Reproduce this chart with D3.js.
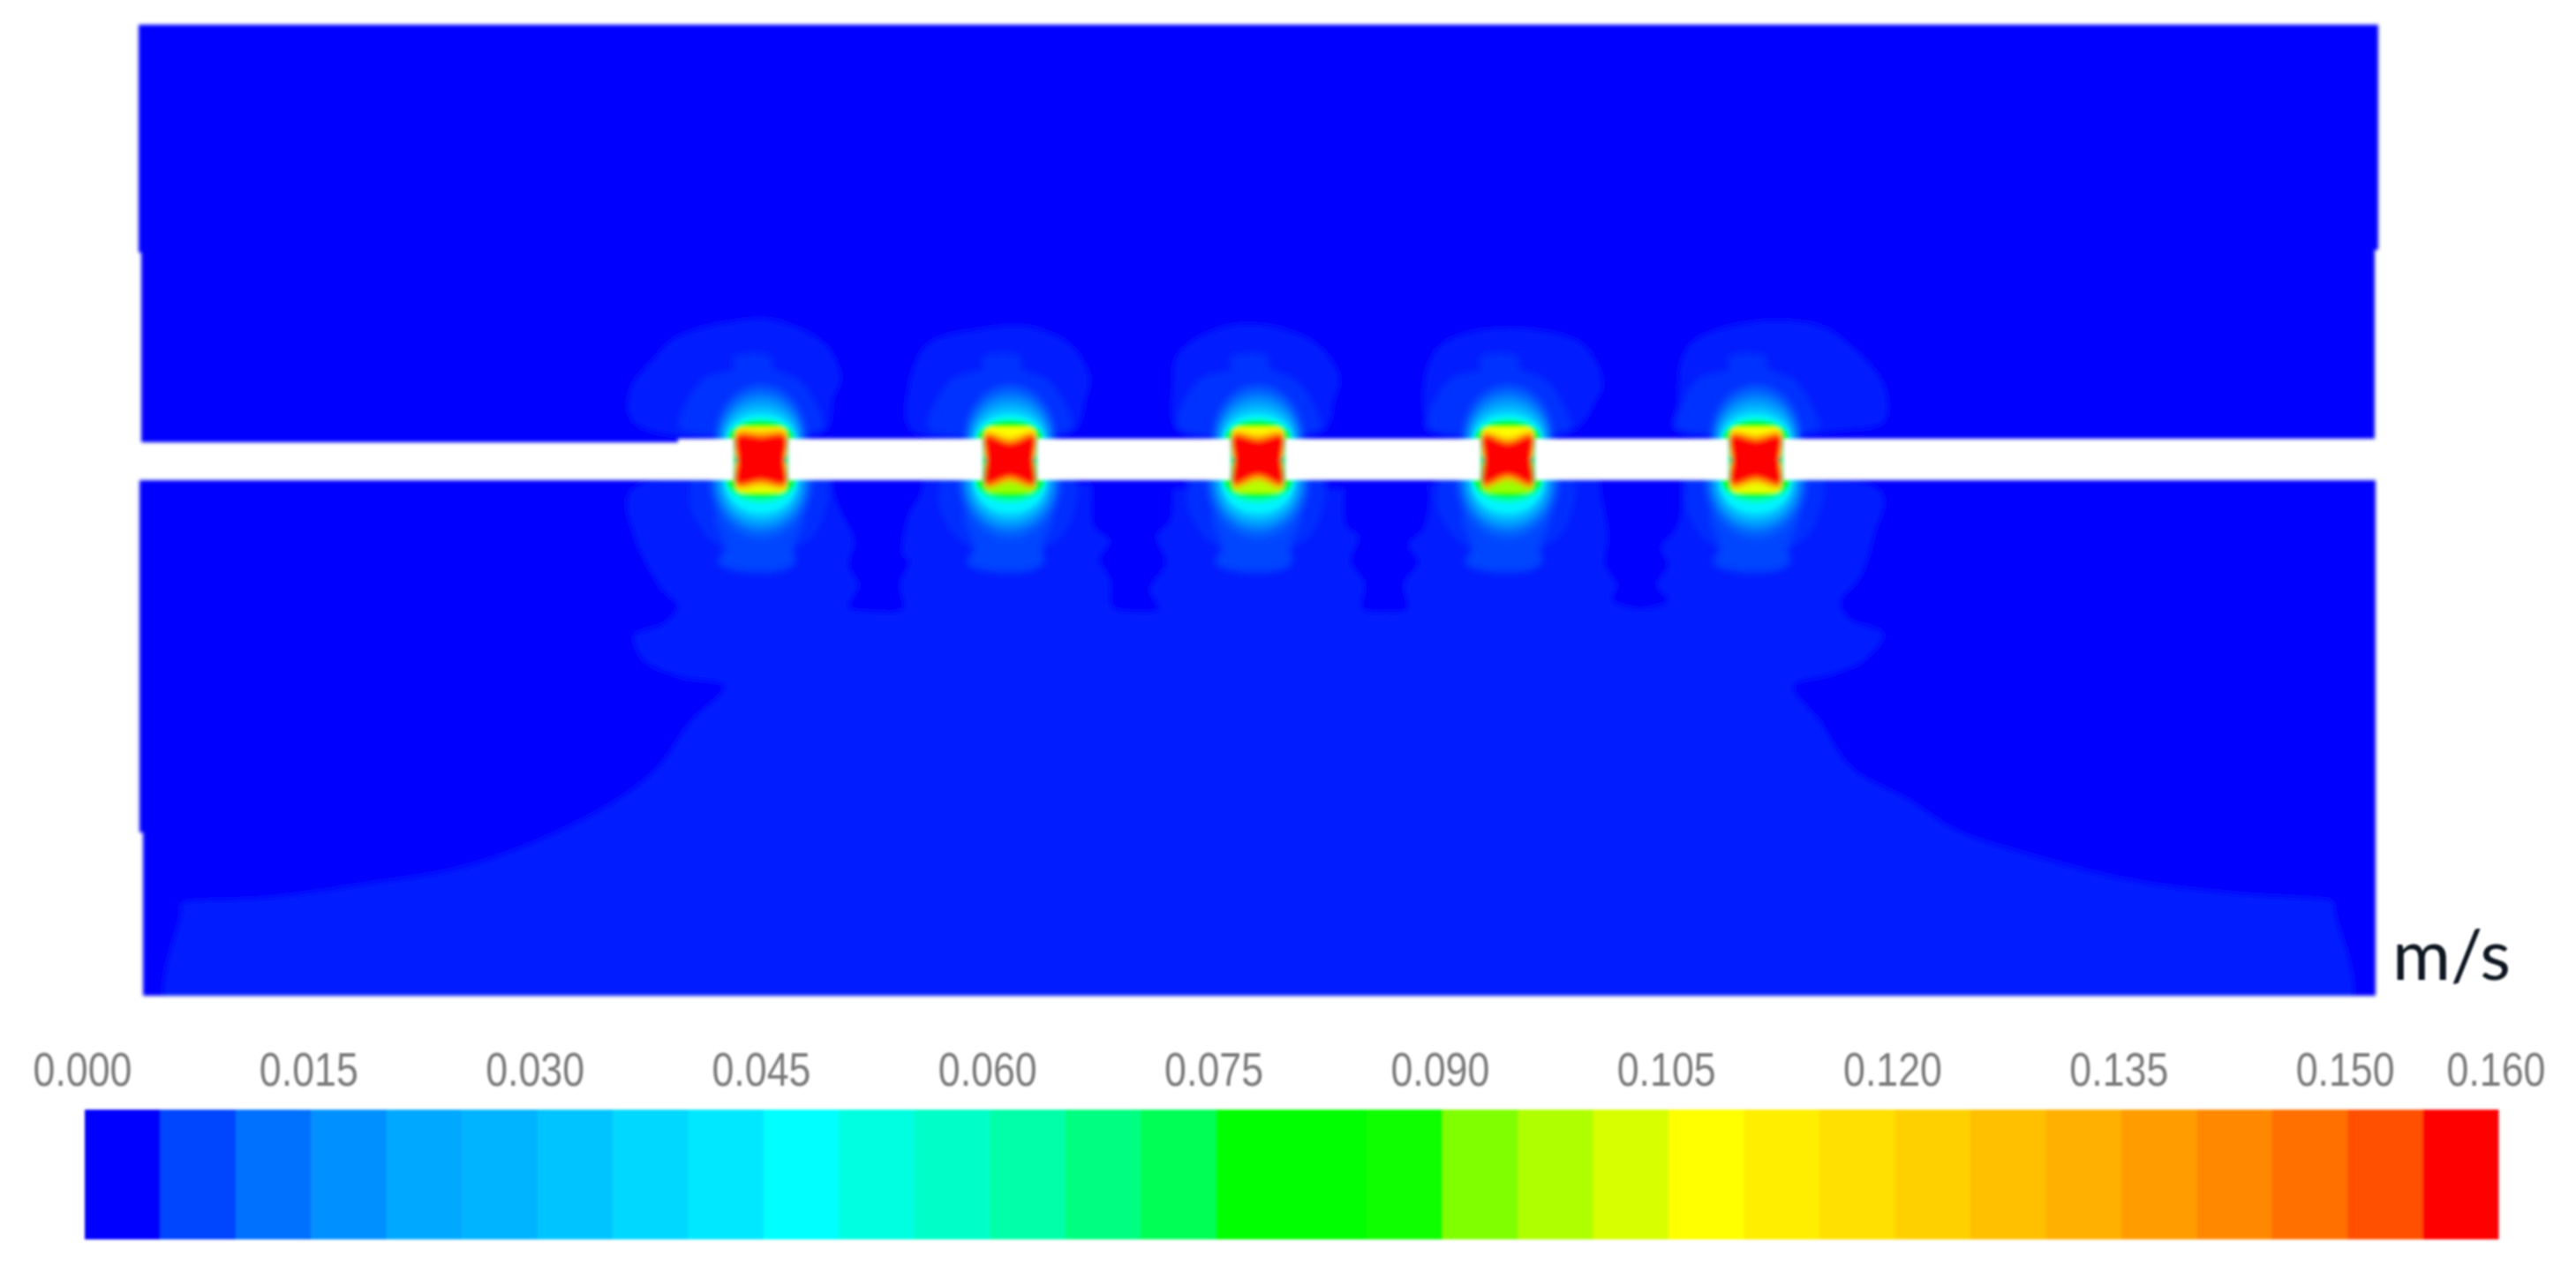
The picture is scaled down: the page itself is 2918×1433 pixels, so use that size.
<!DOCTYPE html>
<html>
    <head>
        <script src="https://d3js.org/d3.v7.min.js"></script>
        <style>
            html, body { margin: 0; background: #fff; }
            svg { display: block; }
        </style>
    </head>
    <body>
        <svg height="1433" width="2918" id="chart"></svg>
        <script>
            // legend
            const bandColors=["#0000ff","#0044ff","#0070ff","#0090ff","#00a8ff","#00b4ff","#00c4ff","#00d8ff",
                "#00e8ff","#00ffff","#00ffe0","#00ffc8","#00ffa8","#00ff80","#00ff55","#00ff00",
                "#00ff00","#10ff00","#80ff00","#b0ff00","#d8ff00","#ffff00","#ffee00","#ffe000",
                "#ffd000","#ffc000","#ffb000","#ff9c00","#ff8800","#ff7000","#ff5000","#ff0000"];
            const bandWidth=0.005;
            const tickValues=[0,0.015,0.03,0.045,0.06,0.075,0.09,0.105,0.12,0.135,0.15,0.16];
            const unitLabel="m/s";

            // walls, model units: x from left end, y from pipe axis
            const upperWall=[[0,493],[2537,493],[2537,238],[2533,238],[2533,24],[611,24],[611,20],[3,20],[3,235],[0,235]];
            const lowerWall=[[1,-23],[2534,-23],[2534,-607],[5,-607],[5,-422],[1,-422]];

            // slow wake below the pipe
            const wakeValue=0.0044;
            const wakeOutline=[[559,-34],[562,-86],[593,-146],[611,-166],[593,-187],[562,-199],[572,-226],[616,-246],
                [664,-256],[626,-296],[585,-352],[514,-402],[377,-459],[249,-482],[147,-496],[60,-500],[50,-502],[48,-515],[42,-640],
                [2496,-640],[2488,-515],[2484,-500],[2474,-498],[2370,-491],[2253,-476],[2136,-446],[2057,-419],[2006,-386],[1940,-349],
                [1904,-296],[1874,-256],[1920,-242],[1955,-226],[1976,-197],[1940,-182],[1927,-162],[1950,-132],
                [1965,-86],[1973,-36],[1266,-34]];
            // still water between the wakes
            const stillValue=0;
            const stillChannels=[
                [[784,-20],[784,-29],[792,-52],[810,-92],[804,-119],[815,-142],[804,-167],[835,-172],[866,-169],[863,-139],[873,-116],[866,-106],[873,-62],[886,-39],[886,-20]],
                [[1080,-20],[1080,-36],[1082,-76],[1100,-92],[1088,-112],[1100,-136],[1103,-167],[1130,-172],[1156,-169],[1146,-147],[1164,-117],[1154,-86],[1169,-69],[1172,-39],[1172,-20]],
                [[1365,-20],[1365,-36],[1368,-76],[1381,-86],[1373,-116],[1388,-139],[1386,-169],[1412,-172],[1437,-169],[1434,-139],[1450,-116],[1439,-96],[1457,-76],[1457,-20]],
                [[1656,-20],[1656,-36],[1664,-86],[1661,-119],[1674,-142],[1669,-159],[1702,-169],[1733,-159],[1720,-142],[1733,-119],[1725,-99],[1743,-76],[1746,-20]]
            ];

            // five openings, x of centre and the estimated core shape of each
            const openingX=[705,987,1268,1551,1832];
            const coreTopDepth=[27,20,23,20,23];
            const coreBottomDepth=[24,20,18,18,21];
            const capTopValue=[0.112,0.108,0.11,0.108,0.108];
            const capBottomValue=[0.105,0.095,0.098,0.095,0.105];

            // outer contour above each opening, offset from its centre
            const shellValue=0.0044;
            const upperShells=[
                [[-128,34],[-149,51],[-146,84],[-124,111],[-97,138],[-35,156],[14,158],[72,131],[90,94],[81,68],[72,34]],
                [[-111,34],[-114,84],[-93,131],[-31,148],[18,151],[67,131],[90,94],[85,68],[72,34]],
                [[-90,34],[-96,84],[-90,120],[-40,150],[10,152],[66,131],[92,94],[86,68],[74,34]],
                [[-84,34],[-94,91],[-74,131],[-3,149],[84,131],[107,88],[100,68],[74,34]],
                [[-74,34],[-87,91],[-74,131],[-3,156],[74,151],[105,131],[145,84],[145,44],[99,34]]
            ];
            const upperBellValue=0.0062;
            const upperBell=[[-91,34],[-93,44],[-66,91],[-30,104],[-32,116],[10,118],[14,104],[46,88],[72,41],[72,34]];
            const lowerVaseValue=0.0058;
            const lowerVase=[[-80,-20],[-80,-29],[-80,-52],[-62,-86],[-43,-102],[-48,-116],[-28,-126],[23,-126],[38,-116],[36,-102],[59,-86],[74,-52],[74,-20]];
            const lowerNeckValue=0.0075;
            const lowerNeck=[[-50,-60],[-40,-102],[-48,-116],[-28,-124],[23,-124],[38,-116],[36,-102],[46,-60]];

            // nested contours hugging the openings, the last ones are the crisp rings
            const contourValues=[0.010,0.016,0.022,0.03,0.038];
            const upperHalfWidth=[50,46,43,41,40];
            const upperHeight=[60,50,42,36,31];
            const lowerHalfWidth=[56,51,47,44,42];
            const lowerDepth=[66,56,49,44,40];
            const ringValues=[0.045,0.06,0.078];
            const ringUpperHalfWidth=[39,38,37];
            const ringUpperHeight=[27,23,20];
            const ringLowerHalfWidth=[41,40,38];
            const ringLowerDepth=[36,25,19];
            const wallGapEdge=24;

            const edgeValue=0.065;
            const orangeValue=0.13;
            const redValue=0.16;

            let chart=d3.select("#chart");
            let defs=chart.append("defs");

            let addBlur=function(id, amount){
                defs.append("filter").attr("id", id)
                    .attr("filterUnits", "userSpaceOnUse")
                    .attr("x", 0).attr("y", 0).attr("width", 2918).attr("height", 1433)
                    .append("feGaussianBlur").attr("stdDeviation", amount);
            };
            addBlur("soft", 2.2);
            addBlur("softField", 3.5);
            addBlur("softRing", 1.2);
            addBlur("softCore", 2.4);
            addBlur("softBar", 1.6);
            addBlur("softText", 1.3);

            let xScale=d3.scaleLinear().domain([0,2537]).range([157,2694]);
            let yScale=d3.scaleLinear().domain([493,-607]).range([28,1128]);
            let valueX=d3.scaleLinear().domain([0,0.16]).range([96,2830]);
            let tickX=d3.scaleLinear().domain([0,0.16]).range([93,2827]);
            let colorScale=d3.scaleLinear()
                .domain(bandColors.map((c,i)=>(i+0.5)*bandWidth))
                .range(bandColors)
                .clamp(true);

            let line=d3.line().x(d=>xScale(d[0])).y(d=>yScale(d[1]));
            let closed=pts=>line(pts)+"Z";
            // contour lines of the field are rounded, the walls stay square
            let contour=d3.line().x(d=>xScale(d[0])).y(d=>yScale(d[1])).curve(d3.curveCatmullRomClosed.alpha(0.5));
            let shift=(pts,dx)=>pts.map(p=>[p[0]+dx,p[1]]);
            let rx=w=>xScale(w)-xScale(0);
            let ry=h=>yScale(0)-yScale(h);

            defs.append("clipPath").attr("id", "flow")
                .selectAll("path").data([upperWall,lowerWall]).join("path").attr("d", closed);

            let plot=chart.append("g").attr("filter", "url(#soft)");
            let clipped=plot.append("g").attr("clip-path", "url(#flow)");

            clipped.selectAll(".wall").data([upperWall,lowerWall]).join("path")
                .attr("class", "wall")
                .attr("d", closed)
                .attr("fill", colorScale(0));

            let field=clipped.append("g").attr("filter", "url(#softField)");
            let rings=clipped.append("g").attr("filter", "url(#softRing)");

            field.append("path").attr("d", contour(wakeOutline)).attr("fill", colorScale(wakeValue));
            field.selectAll(".still").data(stillChannels).join("path")
                .attr("class", "still")
                .attr("d", contour)
                .attr("fill", colorScale(stillValue));

            let addDome=function(group, cx, edge, w, h, v){
                group.append("ellipse")
                    .attr("cx", xScale(cx)).attr("cy", yScale(edge))
                    .attr("rx", rx(w)).attr("ry", ry(h))
                    .attr("fill", colorScale(v));
            };

            openingX.forEach((cx,i)=>{
                field.append("path").attr("d", contour(shift(upperShells[i],cx))).attr("fill", colorScale(shellValue));
                field.append("path").attr("d", contour(shift(upperBell,cx))).attr("fill", colorScale(upperBellValue));
                field.append("path").attr("d", contour(shift(lowerVase,cx))).attr("fill", colorScale(lowerVaseValue));
                field.append("path").attr("d", contour(shift(lowerNeck,cx))).attr("fill", colorScale(lowerNeckValue));

                contourValues.forEach((v,j)=>{
                    addDome(field, cx, wallGapEdge, upperHalfWidth[j], upperHeight[j], v);
                    addDome(field, cx, -wallGapEdge, lowerHalfWidth[j], lowerDepth[j], v);
                });
                ringValues.forEach((v,j)=>{
                    addDome(rings, cx, wallGapEdge, ringUpperHalfWidth[j], ringUpperHeight[j], v);
                    addDome(rings, cx, -wallGapEdge, ringLowerHalfWidth[j], ringLowerDepth[j], v);
                });
            });

            // openings through the gap
            let cores=plot.selectAll(".core").data(openingX).join("g").attr("class", "core");
            cores.append("rect")
                .attr("x", d=>xScale(d-31)).attr("y", yScale(36))
                .attr("width", rx(62)).attr("height", ry(72))
                .attr("rx", 10)
                .attr("fill", colorScale(edgeValue));
            cores.append("rect")
                .attr("x", d=>xScale(d-29)).attr("y", yScale(37))
                .attr("width", rx(58)).attr("height", ry(37))
                .attr("rx", 8)
                .attr("fill", (d,i)=>colorScale(capTopValue[i]));
            cores.append("rect")
                .attr("x", d=>xScale(d-29)).attr("y", yScale(0))
                .attr("width", rx(58)).attr("height", ry(37))
                .attr("rx", 8)
                .attr("fill", (d,i)=>colorScale(capBottomValue[i]));
            let hourglass=(d,i,corner,extra)=>contour([
                [d-27,corner],[d,coreTopDepth[i]+extra],[d+27,corner],
                [d+26,0],[d+27,-corner],[d,-coreBottomDepth[i]-extra],[d-27,-corner],[d-26,0]
            ]);
            let inner=cores.append("g").attr("filter", "url(#softCore)");
            inner.append("path")
                .attr("d", (d,i)=>hourglass(d,i,31,5))
                .attr("fill", colorScale(orangeValue));
            inner.append("path")
                .attr("d", (d,i)=>hourglass(d,i,28,0))
                .attr("fill", colorScale(redValue));

            // colour bar
            chart.append("g").attr("filter", "url(#softBar)")
                .selectAll("rect").data(bandColors).join("rect")
                .attr("x", (d,i)=>valueX(i*bandWidth))
                .attr("y", 1257)
                .attr("width", (d,i)=>valueX((i+1)*bandWidth)-valueX(i*bandWidth)+0.5)
                .attr("height", 147)
                .attr("fill", d=>d);

            let axis=d3.axisTop(tickX)
                .tickValues(tickValues)
                .tickSize(0)
                .tickFormat(d3.format(".3f"));
            // blur on the outer group, the filter box is in page pixels
            let axisG=chart.append("g").attr("filter", "url(#softText)")
                .append("g")
                .attr("transform", "translate(0,1230)")
                .call(axis);
            axisG.select(".domain").remove();
            axisG.selectAll("text")
                .attr("y", 0).attr("dy", 0)
                .attr("textLength", 112)
                .attr("lengthAdjust", "spacingAndGlyphs")
                .style("font-family", "'Liberation Sans'")
                .style("font-size", "54px")
                .style("fill", "#7a7a7a");

            chart.append("text")
                .attr("x", 2710).attr("y", 1110)
                .attr("textLength", 134)
                .attr("lengthAdjust", "spacingAndGlyphs")
                .attr("filter", "url(#softText)")
                .style("font-family", "Lato")
                .style("font-size", "80px")
                .style("fill", "#101820")
                .text(unitLabel);
        </script>
    </body>
</html>
